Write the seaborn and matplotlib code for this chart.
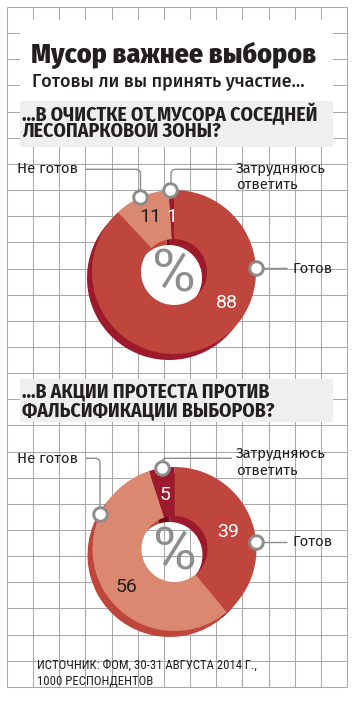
import numpy as np
import pandas as pd
import matplotlib
matplotlib.use('Agg')
import matplotlib.pyplot as plt
import seaborn as sns
from matplotlib.path import Path
from matplotlib.patches import PathPatch, Rectangle, Circle
from matplotlib.font_manager import FontProperties

# Dati del sondaggio (ФОМ, 30-31 августа 2014)
categorie = ['Готов', 'Не готов', 'Затрудняюсь', 'ответить']
valori_1 = [88, 11, 1]    # ...в очистке от мусора
valori_2 = [39, 56, 5]    # ...в акции протеста
titolo = 'Мусор важнее выборов'
sottotitolo = 'Готовы ли вы принять участие...'
domanda_1 = ['...В ОЧИСТКЕ ОТ МУСОРА СОСЕДНЕЙ', 'ЛЕСОПАРКОВОЙ ЗОНЫ?']
domanda_2 = ['...В АКЦИИ ПРОТЕСТА ПРОТИВ', 'ФАЛЬСИФИКАЦИИ ВЫБОРОВ?']
fonte = ['ИСТОЧНИК: ФОМ, 30-31 АВГУСТА 2014 Г.,', '1000 РЕСПОНДЕНТОВ']

colori = ['#bf463c', '#da8870', '#9c1a2c']
colori_ombra = ['#9c1a2c', '#c0463c', '#6e0f1d']
testo_num = ['white', '#231f20', 'white']

sns.set_theme(style='white')
plt.rcParams['font.family'] = ['Roboto', 'DejaVu Sans']

COND = ['Roboto Condensed', 'PT Sans Narrow', 'Fira Sans Condensed', 'DejaVu Sans']
BOLD = ['Fira Sans Condensed', 'Roboto Condensed', 'DejaVu Sans']
WIDE = ['Fira Sans', 'Roboto', 'DejaVu Sans']
INK = '#231f20'
GRIGIO = '#8c8c8c'

fig = plt.figure(figsize=(3.56, 7.04), dpi=100)
ax = fig.add_axes([0, 0, 1, 1])
renderer = fig.canvas.get_renderer()


def due_righe(x, y1, y2, righe, family, weight, size, **kw):
    # un solo testo su due righe, con la distanza tra le linee di base voluta
    prop = FontProperties(family=family, weight=weight, size=size)
    to_px = lambda s: renderer.get_text_width_height_descent(s, prop, ismath=False)
    _, lp_h, lp_d = to_px('lp')
    _, h1, d1 = to_px(righe[0])
    _, h2, d2 = to_px(righe[1])
    d1 = max(d1, lp_d)
    h2, d2 = max(h2, lp_h), max(d2, lp_d)
    ls = ((y2 - y1) - d1) / max(lp_h - lp_d, h2 - d2)
    ax.text(x, y2, '\n'.join(righe), fontproperties=prop, linespacing=ls,
            va='baseline', **kw)


# griglia di sfondo
step = 26.15
xs = 7 + step * np.arange(14)
ys = 7 + step * np.arange(27)
ax.vlines(xs, ys[0], ys[-1], color='#a8a8a8', lw=0.75, zorder=1)
ax.hlines(ys, xs[0], xs[-1], color='#a8a8a8', lw=0.75, zorder=1)

# riquadri titolo e domande
ax.add_patch(Rectangle((20, 20), 313, 81, fc='white', ec='none', zorder=2))
ax.add_patch(Rectangle((20, 101), 313, 46, fc='#efefef', ec='none', zorder=2))
ax.add_patch(Rectangle((20, 379), 313, 43, fc='#efefef', ec='none', zorder=2))

ax.text(31, 63, titolo, family=BOLD, weight='heavy', fontsize=20, color=INK,
        va='baseline', zorder=7)
ax.text(32, 87, sottotitolo, family=WIDE, weight='medium', fontsize=12.9, color=INK,
        va='baseline', zorder=7)
due_righe(22, 121.2, 137, domanda_1, BOLD, 'bold', 14.2, color=INK, zorder=7)
due_righe(22, 397.3, 416, domanda_2, BOLD, 'bold', 14.2, color=INK, zorder=7)
due_righe(37, 669, 684.3, fonte, COND, 'normal', 9.2, color=INK, zorder=7)


def leader(pts, r=5):
    verts, codes = [pts[0]], [Path.MOVETO]
    for i in range(1, len(pts) - 1):
        p0, p1, p2 = map(np.array, (pts[i - 1], pts[i], pts[i + 1]))
        a = p1 + (p0 - p1) / np.linalg.norm(p0 - p1) * r
        b = p1 + (p2 - p1) / np.linalg.norm(p2 - p1) * r
        verts += [a, p1, b]
        codes += [Path.LINETO, Path.CURVE3, Path.CURVE3]
    verts.append(pts[-1])
    codes.append(Path.LINETO)
    ax.add_patch(PathPatch(Path(verts, codes), fc='none', ec=GRIGIO, lw=1.0, zorder=5))


def ciambella(valori, cx, cy, foro_bianco, num_pos, mark_ang, lay):
    R, r_in = 82, 33
    dx, dy = -5, 6
    if foro_bianco:
        ax.add_patch(Circle((cx, cy), r_in + 1, fc='white', ec='none', zorder=2))
    ax.pie(valori, colors=colori_ombra, startangle=-90, counterclock=True, radius=R,
           center=(cx + dx, cy + dy), wedgeprops=dict(width=R - r_in, lw=0, zorder=3))
    ax.pie(valori, colors=colori, startangle=-90, counterclock=True, radius=R,
           center=(cx, cy), wedgeprops=dict(width=R - r_in, lw=0, zorder=4))
    ax.text(cx, cy + 20, '%', fontsize=43, weight='normal', color='#8e8e90',
            ha='center', va='baseline', zorder=7)
    for v, (nx, ny), c in zip(valori, num_pos, testo_num):
        ax.text(nx, ny, str(v), fontsize=14, color=c, ha='center', va='baseline', zorder=7)

    # marcatori sul bordo esterno
    ang = np.deg2rad(mark_ang)
    mx = cx + R * np.sin(ang)
    my = cy - R * np.cos(ang)
    df = pd.DataFrame({'x': mx, 'y': my, 'cat': categorie[:3]})
    sns.scatterplot(data=df, x='x', y='y', ax=ax, s=95, color='white',
                    edgecolor=GRIGIO, linewidth=2.1, zorder=6, legend=False)

    # Готов
    leader([(mx[0], my[0]), (287, my[0])])
    ax.text(293, lay['g'], categorie[0], family=WIDE, fontsize=10.7, color=INK,
            va='baseline', zorder=7)
    # Не готов
    ly, kx = lay['ng_line'], lay['ng_x']
    leader([(86, ly), (kx, ly), (kx, my[1])])
    ax.text(17, lay['ng'], categorie[1], family=WIDE, fontsize=10.7, color=INK,
            va='baseline', zorder=7)
    # Затрудняюсь ответить
    ly, kx = lay['za_line'], lay['za_x']
    leader([(kx, my[2]), (kx, ly), (232, ly)])
    due_righe(236, lay['za'][0], lay['za'][1], categorie[2:], WIDE, 'normal', 10.7,
              color=INK, zorder=7)


ciambella(valori_1, 174, 272, True,
          [(227, 308.3), (150, 221.7), (172, 221.7)],
          [87, 335.4, 357.2],
          dict(g=273, ng=172.7, ng_line=169.3, ng_x=140.5,
               za=(173.3, 189), za_line=169.3, za_x=171))
ciambella(valori_2, 174.5, 549, False,
          [(228, 536.7), (127, 591.7), (165.5, 500)],
          [85.2, 295.2, 350.9],
          dict(g=545.7, ng=462.7, ng_line=458.3, ng_x=100,
               za=(458, 475), za_line=458.3, za_x=161.7))

ax.set_xlim(0, 356)
ax.set_ylim(704, 0)
ax.set_aspect('auto')
ax.axis('off')

fig.savefig('out.png', dpi=100, facecolor='white')
